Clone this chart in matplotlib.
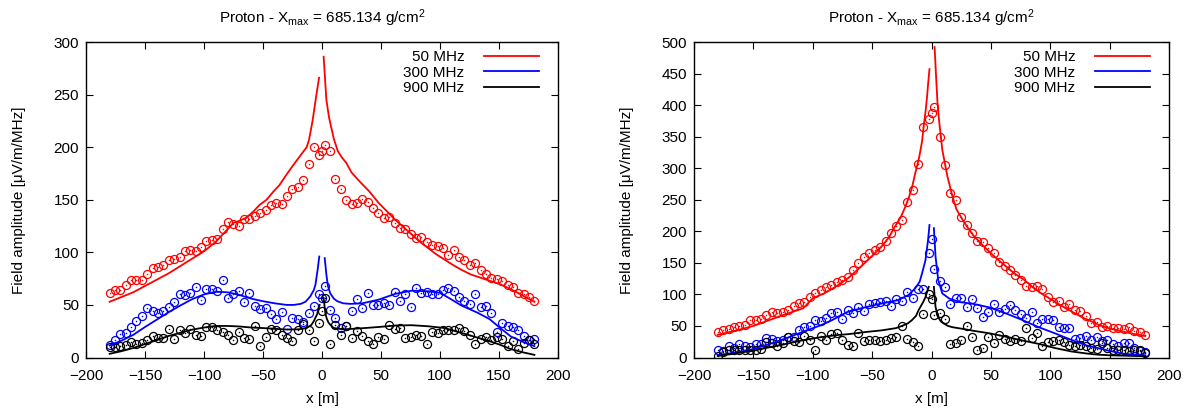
import numpy as np
import matplotlib
matplotlib.use("Agg")
import matplotlib.pyplot as plt

plt.rcParams['font.family'] = ['Liberation Sans', 'DejaVu Sans']
plt.rcParams['mathtext.fontset'] = 'custom'
plt.rcParams['mathtext.rm'] = 'Liberation Sans'
plt.rcParams['mathtext.it'] = 'Liberation Sans:italic'

# antenna positions along x [m]: regular grid plus one antenna at the core
x_ant = np.insert(np.linspace(-180, 180, 80), 40, 0.0)

# ---------------- left panel: simulated pulses (circles) ----------------
L_50_pts = [61.5, 64, 64, 69, 74, 74, 74, 79.5, 85, 86, 88, 93, 94, 96, 101, 102, 101, 105, 111, 112,
            113, 122, 129, 127, 125, 132, 132, 135, 137.5, 140, 145, 147, 146, 154, 160, 162, 169, 184, 200, 193,
            196,
            202, 196, 170, 160, 150, 146, 147, 151, 148, 142, 137.5, 133, 134, 128, 123, 122, 117, 114, 115, 110,
            107, 106, 104.5, 97, 102, 96, 93, 88, 90, 83, 79, 76, 75, 72.5, 69, 67, 61.5, 60, 58, 54]
L_300_pts = [12, 16.5, 22, 23, 29, 34.5, 39, 47, 44, 42, 44, 48, 53, 60, 59, 61, 67, 55, 65, 65,
             63, 74, 57, 60, 63, 52.6, 61, 49, 46, 47, 41, 37, 43, 27.5, 37.7, 36.7, 34, 42, 49, 60.5,
             57,
             68, 45.6, 38, 28, 30, 44, 56, 47, 61, 50, 50, 52, 50, 62, 53.5, 60, 48, 66, 61.5, 62.7,
             60.4, 60.8, 64.6, 66, 63, 58, 54, 51, 60, 48, 49.4, 42.4, 24.5, 33, 30, 28.8, 26.3, 20.6, 16.8, 17.4]
L_900_pts = [9.8, 10, 10.8, 12, 15, 13, 14, 17, 20, 18.4, 19, 27.5, 18, 26.6, 23.4, 27.2, 21.8, 20.9, 29, 29,
             26, 24, 21.8, 16.5, 24, 18.7, 17.7, 29.7, 11.4, 19.6, 27, 26, 21.8, 18.7, 15.5, 26, 32, 26.6, 15.5, 33,
             44,
             57, 12.5, 31, 21, 29.7, 18.7, 25, 20, 15.5, 13.3, 19.6, 17.7, 31.3, 27, 28, 18.7, 19.6, 21.8, 20.3, 13.3,
             24.7, 23.4, 26, 26, 26, 28, 25.6, 21, 13.3, 17.7, 19.6, 17, 19.6, 17.7, 10.8, 15.5, 8.2, 14, 17, 13]

# ---------------- left panel: model curves ----------------
L_50_x = [-180, -170, -160, -150, -140, -130, -120, -110, -100, -90, -85, -80, -75, -70, -64, -58, -53, -47,
          -41, -36, -30, -25, -19, -13, -11, -8, -5, -2.5, 0, 1.4, 3.7, 6, 8, 10, 13.5, 17, 20.6, 25, 31.8,
          40, 48, 55, 62, 70, 76, 83, 90, 97, 104, 111, 118, 126, 134, 142, 150, 160, 170, 180]
L_50_y = [53, 57.5, 62, 68, 74, 80, 87, 94, 101, 110, 116, 122, 128, 130, 133, 139, 145, 150,
          158, 164, 174, 182, 191, 200, 207, 225, 248, 266, np.nan, 286, 245, 228, 218, 208, 196, 190, 185, 176, 167.5,
          158, 147, 139, 131, 123, 117, 110, 104, 98, 93, 88, 83.5, 79, 76, 73, 70, 65, 59, 53]
L_300_x = [-180, -170, -160, -150, -140, -130, -120, -110, -100, -90, -80, -70, -60, -50, -40, -30, -24, -18,
           -14, -10, -7, -5.6, -3.7, -2.3, 0, 2.3, 3.7, 5, 7, 10, 13, 18, 24, 34, 48, 62, 76, 90, 100, 110,
           118, 132, 142, 150, 160, 170, 180]
L_300_y = [11.5, 16, 21.5, 29, 36, 43, 49.5, 55.5, 60, 62.5, 62, 59.5, 56, 53.5, 51.5, 50, 50, 51,
           53, 58, 64, 69, 83.5, 96, np.nan, 94.5, 79, 68, 61, 56, 53.5, 51.5, 51, 51.5, 55, 60.5, 63.5, 63, 61.5, 55,
           49.5, 42.5, 36.5, 29, 20, 15, 10.8]
L_900_x = [-180, -170, -160, -150, -140, -130, -120, -110, -100, -90, -80, -70, -60, -50, -40, -30, -20, -13,
           -9, -7, -4.2, -2, 0, 1.4, 2.8, 4, 5.6, 8, 10, 18, 30, 48, 62, 76, 90, 104, 118, 130, 142, 150,
           160, 170, 180]
L_900_y = [3.5, 6, 9, 12.8, 16.5, 20.5, 23.5, 26.5, 28.5, 30, 30, 29.5, 28.5, 28, 27.3, 26.6, 26.8, 28,
           31, 34.5, 41, 50, np.nan, 56.5, 42.5, 37, 33, 30, 28, 26.8, 27.5, 29, 30.4, 30.7, 29.7, 28, 23.4, 19.5, 15.5, 12.5,
           8, 5, 2.5]

# ---------------- right panel: simulated pulses (circles) ----------------
R_50_pts = [40, 42.8, 44.4, 48.6, 49.6, 51.7, 59, 60, 61, 68, 71.8, 70.7, 72.3, 76, 82.4, 86.6, 87.6, 96, 101.7, 107,
            112, 115, 119, 123, 128, 138, 149.6, 160, 165, 170, 175, 185, 197, 209, 218, 247, 266, 307, 365, 378,
            387,
            397, 349, 305, 260, 249, 223, 210, 198, 184, 183, 174, 166, 151.5, 145, 138, 131.5, 123.5, 114, 112, 113,
            108, 96, 88, 89, 80, 84, 76, 73.4, 65.5, 54, 56, 48.6, 50.7, 47, 47, 44.4, 48, 41.7, 40, 36.4]
R_300_pts = [12, 10, 18.5, 15, 21.5, 18, 17, 21, 21, 31, 29, 26, 27.5, 32, 33, 43.5, 48, 50, 59, 58,
             62, 70, 72.5, 61, 74.5, 71, 80.5, 73, 84, 86.5, 88.5, 89, 82, 92, 89.5, 103.5, 95, 108.8, 108, 165,
             188,
             141, 122, 112, 84, 93.6, 94.8, 79.5, 92.6, 78, 64.7, 72.6, 84.8, 72.6, 76.3, 82.7, 75.3, 69, 62, 72.6, 55,
             61, 61, 59.5, 48, 46.4, 46.4, 29, 30.6, 34.3, 28, 33, 26, 28, 21, 19, 23, 23, 15, 11, 8]
R_900_pts = [3, 8.5, 11.5, 11.5, 12.5, 11.5, 12.5, 11.5, 13.5, 24, 23, 19, 23, 32.5, 26, 24, 34.5, 27.5, 11.5, 34,
             27.5, 38, 39, 27.5, 20.5, 19, 39, 26, 27.5, 28.5, 26, 28.5, 31, 33, 49.5, 30, 25, 18, 69, 101,
             92,
             68, 70.5, 61, 21, 23, 28.5, 50, 33, 12.5, 15.5, 33, 23, 36, 29.5, 26, 29.5, 26, 47, 31, 39,
             19, 24, 26, 28.5, 24, 20.5, 18, 20.5, 18, 15.5, 13.5, 23, 15.5, 12.5, 12.5, 11.5, 10, 11.5, 11.5, 7.5]

# ---------------- right panel: model curves ----------------
R_50_x = [-180, -165, -150, -137, -123, -108, -100, -90, -80, -70, -60, -50, -42, -36, -31, -26, -22, -19,
          -16.6, -13.7, -10.3, -8, -6.6, -5, -3.7, -2.8, -1.7, 0, 2.6, 4, 5, 6.3, 9.1, 13.4, 17.7, 21, 25, 29,
          35, 42, 49, 56, 63, 70, 78, 85, 92, 99, 106, 113, 120, 127, 135, 141, 150, 160, 170, 180]
R_50_y = [36, 42.5, 50, 59, 68.5, 78, 94, 102, 113, 126, 143, 161, 176, 190, 207, 222, 239, 254,
          268, 292, 318, 342, 366, 390, 414, 435, 457, np.nan, 492, 440, 405, 377, 329, 287, 255, 235, 222, 210,
          194, 180, 167, 155, 144, 133, 123, 112, 102, 94, 86, 78, 71, 63.5, 57, 51.5, 46, 41.5, 37.5, 34]
R_300_x = [-180, -165, -151, -137, -123, -108, -94, -85, -71, -55, -42, -28, -19.4, -13.7, -10, -8, -5.1,
           -2.9, -1.7, 0, 2, 3.4, 5.7, 9.1, 14.9, 23.4, 35, 48.6, 62.5, 76.4, 90.3, 104, 118, 132, 140, 150,
           160, 170, 180]
R_300_y = [4, 7.6, 13, 21, 30, 41, 50.5, 58, 72, 80, 85.5, 91, 99, 109.6, 120, 133, 154,
           186, 210, np.nan, 205, 160, 122.5, 101.5, 93.5, 88, 85, 79.5, 70, 59.5, 48, 38.3, 27.7, 18.2, 15, 10.5,
           6.5, 4.5, 3.5]
R_900_x = [-180, -165, -150, -137, -123, -108, -94, -80, -70, -55, -42, -30, -25, -20, -16.6, -13, -10.9,
           -7, -5, -3.7, -2.3, 0, 2, 3.4, 5, 6.3, 8, 10.6, 14, 17.7, 21, 29, 35, 49, 62.5, 76.4, 90.3, 104,
           118, 132, 140, 150, 160, 170, 180]
R_900_y = [2.5, 6.5, 11, 16, 21.3, 27.5, 32, 35.5, 37, 40.5, 43, 46.5, 50, 54, 59, 66, 75,
           88, 96, 104, 112, np.nan, 112, 80, 68, 62, 57, 53.5, 50, 48, 47, 44.5, 42.4, 38.3, 33, 27, 21.6, 15,
           9.5, 6, 4.5, 3.5, 3, 2.5, 2]

freq_labels = ['50 MHz', '300 MHz', '900 MHz']
colors = ['#ff0000', '#0000ff', '#000000']
title = r'Proton - X$_{\mathrm{max}}$ = 685.134 g/cm$^{2}$'

fig = plt.figure(figsize=(11.95, 4.13), dpi=100)
ax_l = fig.add_axes([86 / 1195, 1 - 357.5 / 413, 472 / 1195, 315.5 / 413])
ax_r = fig.add_axes([694 / 1195, 1 - 357.5 / 413, 475 / 1195, 315.5 / 413])

panels = [
    (ax_l, [L_50_pts, L_300_pts, L_900_pts],
     [(L_50_x, L_50_y), (L_300_x, L_300_y), (L_900_x, L_900_y)], 300),
    (ax_r, [R_50_pts, R_300_pts, R_900_pts],
     [(R_50_x, R_50_y), (R_300_x, R_300_y), (R_900_x, R_900_y)], 500),
]

for ax, pts, curves, ymax in panels:
    for (cx, cy), lab, col in zip(curves, freq_labels, colors):
        ax.plot(cx, cy, '-', color=col, lw=1.3, label=lab, zorder=3)
    for p, col in zip(pts, colors):
        ax.plot(x_ant, p, 'o', mfc='none', mec=col, ms=5.8, mew=0.9, zorder=2)
        ax.plot(x_ant, p, 'o', color=col, ms=1.1, mew=0, zorder=2)
    ax.set_xlim(-200, 200)
    ax.set_ylim(0, ymax)
    ax.set_xticks(np.arange(-200, 201, 50))
    ax.set_yticks(np.arange(0, ymax + 1, 50))
    ax.tick_params(direction='in', top=True, right=True, length=5, width=0.8,
                   labelsize=11, colors='black')
    ax.tick_params(axis='x', pad=8)
    ax.tick_params(axis='y', pad=5)
    for sp in ax.spines.values():
        sp.set_linewidth(1.0)
    ax.set_xlabel('x [m]', fontsize=11, labelpad=7)
    ax.set_ylabel('Field amplitude [\u03bcV/m/MHz]', fontsize=11, labelpad=20)
    ax.set_title(title, fontsize=11, pad=14)
    ax.legend(loc='upper right', bbox_to_anchor=(0.983, 1.008), frameon=False,
              markerfirst=False, fontsize=11, handlelength=3.6, handletextpad=1.3,
              labelspacing=0.1, borderaxespad=0.3)

fig.savefig('out.png', dpi=100)
